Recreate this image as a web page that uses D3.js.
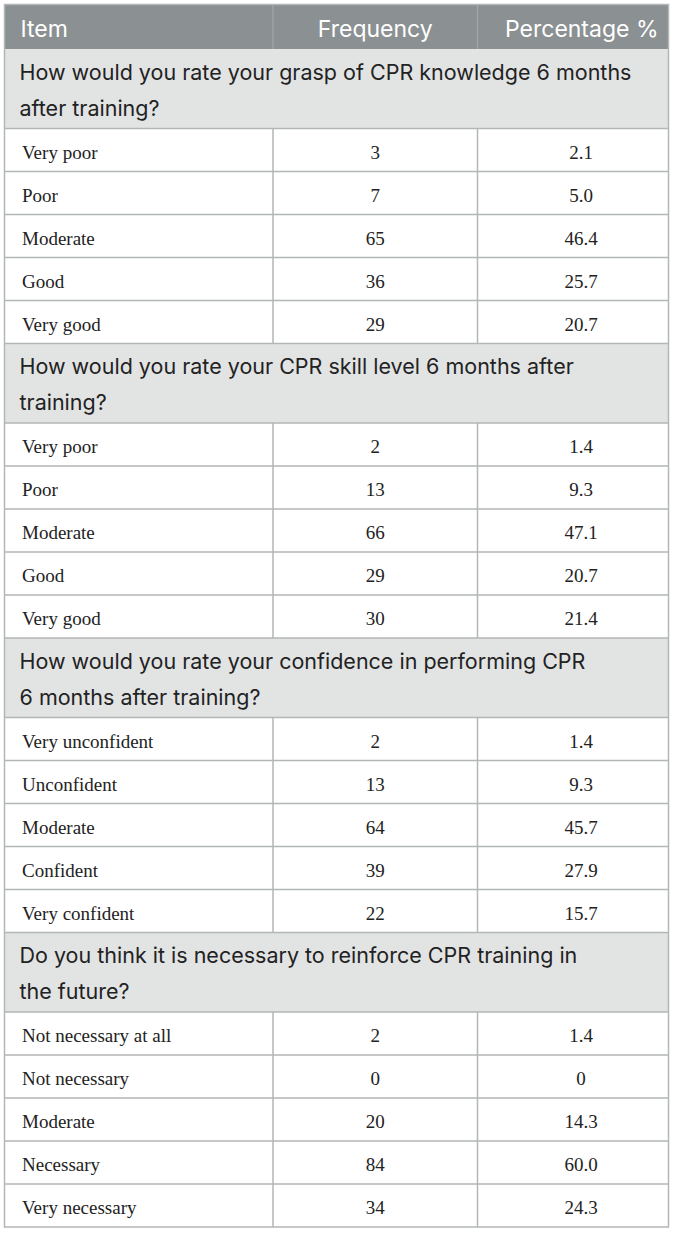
<!DOCTYPE html>
<html>
<head>
<meta charset="utf-8">
<script src="https://cdn.jsdelivr.net/npm/d3@7"></script>
<style>
  body { margin: 0; background: #fff; }
  .head { font-family: "Inter", sans-serif; font-size: 23px; fill: #fff; }
  .section { font-family: "Inter", sans-serif; font-size: 21.5px; fill: #222; }
  .cell { font-family: "Liberation Serif", serif; font-size: 19px; fill: #222; }
</style>
</head>
<body>
<svg id="chart"></svg>
<script>
var headers = ["Item", "Frequency", "Percentage %"];

var sections = [
    ["How would you rate your grasp of CPR knowledge 6 months", "after training?"],
    ["How would you rate your CPR skill level 6 months after", "training?"],
    ["How would you rate your confidence in performing CPR", "6 months after training?"],
    ["Do you think it is necessary to reinforce CPR training in", "the future?"]
];

var items = [
    ["Very poor", "Poor", "Moderate", "Good", "Very good"],
    ["Very poor", "Poor", "Moderate", "Good", "Very good"],
    ["Very unconfident", "Unconfident", "Moderate", "Confident", "Very confident"],
    ["Not necessary at all", "Not necessary", "Moderate", "Necessary", "Very necessary"]
];

var frequency = [
    [3, 7, 65, 36, 29],
    [2, 13, 66, 29, 30],
    [2, 13, 64, 39, 22],
    [2, 0, 20, 84, 34]
];

var percentage = [
    ["2.1", "5.0", "46.4", "25.7", "20.7"],
    ["1.4", "9.3", "47.1", "20.7", "21.4"],
    ["1.4", "9.3", "45.7", "27.9", "15.7"],
    ["1.4", "0", "14.3", "60.0", "24.3"]
];

var margin = {top: 4.5, left: 4.5},
    width = 664,
    headH = 44.5,
    secH = 79.5,
    rowH = 43;

var svg = d3.select("#chart")
    .attr("width", 673)
    .attr("height", 1233)
    .append("g")
    .attr("transform", "translate(" + margin.left + "," + margin.top + ")");

// column edges
var colX = d3.scaleOrdinal().domain([0, 1, 2, 3]).range([0, 268.5, 473, width]);

// build flat list of rows
var rows = [];
var y = headH;
sections.forEach(function(s, i) {
    rows.push({type: "section", lines: s, y: y, h: secH});
    y += secH;
    items[i].forEach(function(it, j) {
        rows.push({type: "row", cells: [it, frequency[i][j], percentage[i][j]], y: y, h: rowH});
        y += rowH;
    });
});
var totalH = y;

var border = "#b3b6b6";

// header
svg.append("rect")
    .attr("x", 0).attr("y", 0)
    .attr("width", width).attr("height", headH)
    .attr("fill", "#8b9092");

[1, 2].forEach(function(c) {
    svg.append("line")
        .attr("x1", colX(c)).attr("x2", colX(c))
        .attr("y1", 0).attr("y2", headH)
        .attr("stroke", "#a3a7a8").attr("stroke-width", 1.2);
});

svg.append("text").attr("class", "head")
    .attr("x", 16).attr("y", 32)
    .text(headers[0]);
svg.append("text").attr("class", "head")
    .attr("x", (colX(1) + colX(2)) / 2).attr("y", 32)
    .style("text-anchor", "middle")
    .text(headers[1]);
svg.append("text").attr("class", "head")
    .attr("x", width - 10).attr("y", 32)
    .style("text-anchor", "end")
    .text(headers[2]);

// section rows
var sec = svg.selectAll(".sec")
    .data(rows.filter(function(d) { return d.type === "section"; }))
    .enter().append("g")
    .attr("class", "sec")
    .attr("transform", function(d) { return "translate(0," + d.y + ")"; });

sec.append("rect")
    .attr("width", width).attr("height", secH)
    .attr("fill", "#e2e4e4");

sec.each(function(d) {
    var g = d3.select(this);
    d.lines.forEach(function(l, k) {
        g.append("text").attr("class", "section")
            .attr("x", 15).attr("y", 30.5 + k * 36)
            .text(l);
    });
});

// data rows
var dr = svg.selectAll(".drow")
    .data(rows.filter(function(d) { return d.type === "row"; }))
    .enter().append("g")
    .attr("class", "drow")
    .attr("transform", function(d) { return "translate(0," + d.y + ")"; });

[1, 2].forEach(function(c) {
    dr.append("line")
        .attr("x1", colX(c)).attr("x2", colX(c))
        .attr("y1", 0).attr("y2", rowH)
        .attr("stroke", border).attr("stroke-width", 1.5);
});

dr.append("text").attr("class", "cell")
    .attr("x", 17.5).attr("y", 30)
    .text(function(d) { return d.cells[0]; });
dr.append("text").attr("class", "cell")
    .attr("x", (colX(1) + colX(2)) / 2).attr("y", 30)
    .style("text-anchor", "middle")
    .text(function(d) { return d.cells[1]; });
dr.append("text").attr("class", "cell")
    .attr("x", 576.5).attr("y", 30)
    .style("text-anchor", "middle")
    .text(function(d) { return d.cells[2]; });

// horizontal lines between rows
svg.selectAll(".hline")
    .data(rows.slice(1))
    .enter().append("line")
    .attr("class", "hline")
    .attr("x1", 0).attr("x2", width)
    .attr("y1", function(d) { return d.y; })
    .attr("y2", function(d) { return d.y; })
    .attr("stroke", border).attr("stroke-width", 1.5);

// outer border
svg.append("rect")
    .attr("x", 0).attr("y", 0)
    .attr("width", width).attr("height", totalH)
    .attr("fill", "none")
    .attr("stroke", border).attr("stroke-width", 1.5);
</script>
</body>
</html>
